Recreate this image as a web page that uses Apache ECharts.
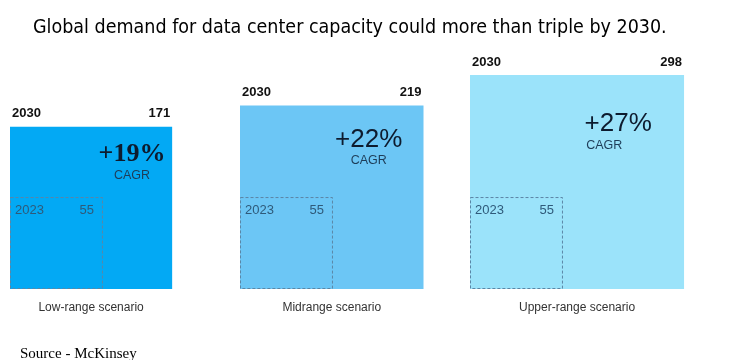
<!DOCTYPE html>
<html><head><meta charset="utf-8">
<script src="https://cdn.jsdelivr.net/npm/echarts@6/dist/echarts.min.js"></script>
<style>html,body{margin:0;padding:0;background:#fff}#c{width:747px;height:360px}</style>
</head><body><div id="c"></div>
<script>
// Data
const scenarios = ['Low-range scenario', 'Midrange scenario', 'Upper-range scenario'];
const value2030 = [171, 219, 298];
const value2023 = [55, 55, 55];
const cagr = ['+19%', '+22%', '+27%'];
const yearNow = '2023';
const yearTarget = '2030';

// Styles (not data)
const fills = ['#03A9F4', '#6CC6F5', '#9BE3FA'];
const cagrFonts = ['"Liberation Serif", serif', '"Liberation Sans", Arial, sans-serif', '"Liberation Sans", Arial, sans-serif'];
const cagrWeights = ['bold', 'normal', 'normal'];
const cagrPos = [[0.555, 0.17], [0.527, 0.185], [0.543, 0.23]];
const cagrAlign = ['center', 'center', 'left'];
const gridLefts = [10, 240, 470];
const UNIT = 12.4;      // px per sqrt(value) unit
const AX_MAX = 18;

const chart = echarts.init(document.getElementById('c'));
const grids = [], xAxes = [], yAxes = [], series = [];
scenarios.forEach((name, i) => {
  grids.push({left: gridLefts[i], width: AX_MAX * UNIT, bottom: 71, height: AX_MAX * UNIT});
  xAxes.push({type: 'value', gridIndex: i, min: 0, max: AX_MAX, show: false});
  yAxes.push({type: 'value', gridIndex: i, min: 0, max: AX_MAX, show: false});
  series.push({
    type: 'custom', xAxisIndex: i, yAxisIndex: i,
    data: [[value2030[i], value2023[i]]],
    silent: true,
    renderItem: function (params, api) {
      const big = Math.sqrt(api.value(0));
      const small = Math.sqrt(api.value(1));
      const p0 = api.coord([0, 0]);
      const p1 = api.coord([big, big]);
      const q1 = api.coord([small, small]);
      const x0 = p0[0], y0 = p0[1];
      const w = p1[0] - x0, h = y0 - p1[1];
      const sw = q1[0] - x0, sh = y0 - q1[1];
      const cp = api.coord([big * cagrPos[i][0], big * (1 - cagrPos[i][1])]);
      const cagrW = 64;
      const cx = cagrAlign[i] === 'left' ? cp[0] : cp[0] + cagrW / 2;
      return {
        type: 'group',
        children: [
          {type: 'rect', shape: {x: x0, y: p1[1], width: w, height: h}, style: {fill: fills[i]}},
          {type: 'rect', shape: {x: x0 + 0.5, y: q1[1] + 0.5, width: sw, height: sh - 1},
            style: {fill: 'none', stroke: '#5b86a6', lineWidth: 1, lineDash: [3, 2]}},
          {type: 'text', x: x0 + 2, y: p1[1] - 13, style: {text: yearTarget, fontFamily: '"Liberation Sans", Arial, sans-serif', fontWeight: 'bold', fontSize: 13, fill: '#111', verticalAlign: 'middle', align: 'left'}},
          {type: 'text', x: x0 + w - 2, y: p1[1] - 13, style: {text: String(api.value(0)), fontFamily: '"Liberation Sans", Arial, sans-serif', fontWeight: 'bold', fontSize: 13, fill: '#111', verticalAlign: 'middle', align: 'right'}},
          {type: 'text', x: cp[0] + cagrW / 2, y: cp[1], style: {text: cagr[i], fontFamily: cagrFonts[i], fontWeight: cagrWeights[i], fontSize: 26, fill: '#0d1b2e', verticalAlign: 'middle', align: 'center'}},
          {type: 'text', x: cx, y: cp[1] + 21, style: {text: 'CAGR', fontFamily: '"Liberation Sans", Arial, sans-serif', fontSize: 12.5, fill: '#1e3d58', verticalAlign: 'middle', align: cagrAlign[i]}},
          {type: 'text', x: x0 + 5, y: q1[1] + 13, style: {text: yearNow, fontFamily: '"Liberation Sans", Arial, sans-serif', fontSize: 13, fill: '#2f5a7a', verticalAlign: 'middle', align: 'left'}},
          {type: 'text', x: x0 + sw - 8, y: q1[1] + 13, style: {text: String(api.value(1)), fontFamily: '"Liberation Sans", Arial, sans-serif', fontSize: 13, fill: '#2f5a7a', verticalAlign: 'middle', align: 'right'}},
          {type: 'text', x: x0 + w / 2, y: y0 + 19, style: {text: name, fontFamily: '"Liberation Sans", Arial, sans-serif', fontSize: 12, fill: '#333', verticalAlign: 'middle', align: 'center'}}
        ]
      };
    }
  });
});

chart.setOption({
  animation: false,
  backgroundColor: '#fff',
  title: [
    {text: 'Global demand for data center capacity could more than triple by 2030.', left: 28, top: 13,
      textStyle: {fontFamily: '"Liberation Sans Narrow", "DejaVu Sans Condensed", "Open Sans", sans-serif', fontWeight: 'normal', fontSize: 19.5, color: '#000'}},
    {text: 'Source - McKinsey', left: 15, top: 342,
      textStyle: {fontFamily: '"Liberation Serif", "Times New Roman", serif', fontWeight: 'normal', fontSize: 15, color: '#000'}}
  ],
  grid: grids, xAxis: xAxes, yAxis: yAxes, series: series
});
</script></body></html>
